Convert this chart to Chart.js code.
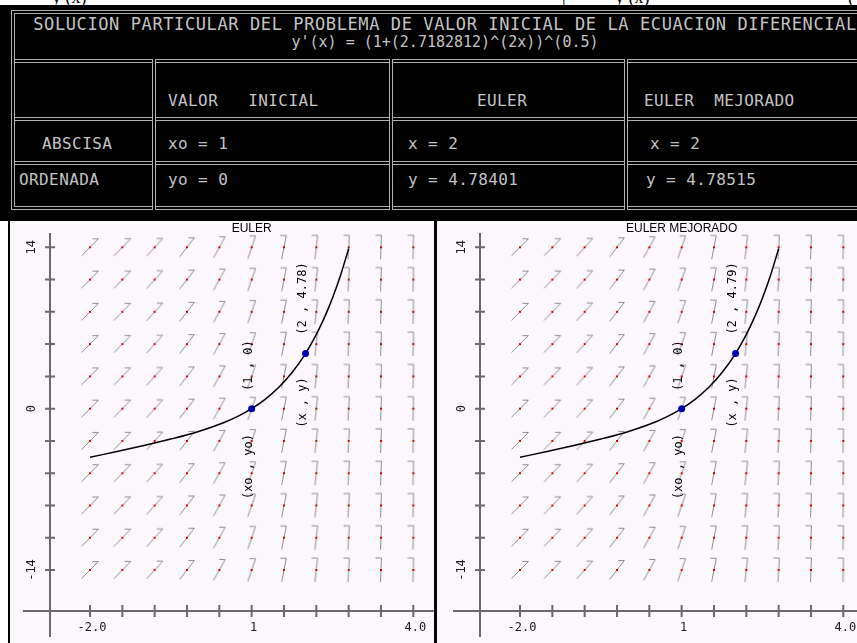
<!DOCTYPE html>
<html>
<head>
<meta charset="utf-8">
<script src="https://cdn.jsdelivr.net/npm/chart.js@4.4.1/dist/chart.umd.min.js"></script>
<style>
  html, body { margin: 0; padding: 0; background: #fff; width: 857px; height: 643px; overflow: hidden; }
  body { position: relative; }
  .frag { position: absolute; top: -13px; font-family: "Liberation Serif", serif; font-size: 18px; color: #000; }
  #header { position: absolute; left: 0; top: 5px; width: 857px; height: 216px; background: #000; }
  .frame { position: absolute; box-sizing: border-box; border: 4px double #b0b0b0; }
  .hl { position: absolute; box-sizing: border-box; height: 4px; border-top: 1px solid #b0b0b0; border-bottom: 1px solid #b0b0b0; background: #000; }
  .vl { position: absolute; box-sizing: border-box; width: 4px; border-left: 1px solid #b0b0b0; border-right: 1px solid #b0b0b0; background: #000; }
  .t { position: absolute; font-family: "DejaVu Sans Mono", monospace; font-size: 16px; letter-spacing: 0.4px; color: #c4c4c4; white-space: pre; line-height: 20px; }
  .t.big { font-size: 17px; letter-spacing: 0.6px; }
  .t.eq { font-size: 15px; letter-spacing: 0; }
  canvas { position: absolute; top: 221px; background: #fcf7fc; }
  .vbar { position: absolute; top: 221px; height: 422px; background: #000; }
</style>
</head>
<body>
<span class="frag" style="left:52px">y (x)</span>
<span class="frag" style="left:562px">|</span>
<span class="frag" style="left:615px">y (x)</span>
<span class="frag" style="left:848px">(</span>

<div id="header"></div>
<div class="frame" style="left:11px;top:10px;width:900px;height:200px;"></div>
<div class="hl" style="left:15px;top:59px;width:900px;"></div>
<div class="hl" style="left:15px;top:117px;width:900px;"></div>
<div class="hl" style="left:15px;top:161px;width:900px;"></div>
<div class="vl" style="left:152px;top:59px;height:151px;"></div>
<div class="vl" style="left:389px;top:59px;height:151px;"></div>
<div class="vl" style="left:624px;top:59px;height:151px;"></div>

<div class="t big" style="left:0;width:890px;text-align:center;top:14px;">SOLUCION PARTICULAR DEL PROBLEMA DE VALOR INICIAL DE LA ECUACION DIFERENCIAL</div>
<div class="t eq" style="left:0;width:890px;text-align:center;top:32px;">y'(x) = (1+(2.7182812)^(2x))^(0.5)</div>

<div class="t" style="left:168px;top:91px;">VALOR   INICIAL</div>
<div class="t" style="left:477px;top:91px;">EULER</div>
<div class="t" style="left:644px;top:91px;">EULER  MEJORADO</div>

<div class="t" style="left:42px;top:134px;">ABSCISA</div>
<div class="t" style="left:168px;top:134px;">xo = 1</div>
<div class="t" style="left:408px;top:134px;">x = 2</div>
<div class="t" style="left:650px;top:134px;">x = 2</div>

<div class="t" style="left:19px;top:170px;">ORDENADA</div>
<div class="t" style="left:168px;top:170px;">yo = 0</div>
<div class="t" style="left:408px;top:170px;">y = 4.78401</div>
<div class="t" style="left:646px;top:170px;">y = 4.78515</div>

<canvas id="euler" width="424" height="422" style="left:10px"></canvas>
<canvas id="mejorado" width="420" height="422" style="left:437px"></canvas>
<div class="vbar" style="left:8px;width:2px;"></div>
<div class="vbar" style="left:434px;width:3px;"></div>

<script>
// grid of the direction field (also the axis ticks)
const gridX = [-2.0, -1.4, -0.8, -0.2, 0.4, 1.0, 1.6, 2.2, 2.8, 3.4, 4.0];
const gridY = [14, 11.2, 8.4, 5.6, 2.8, 0, -2.8, -5.6, -8.4, -11.2, -14];
// slope of the little marks in each column
const fieldSlopes = [1.01, 1.03, 1.10, 1.29, 1.80, 2.90, 5.05, 9.1, 16.5, 30, 55];

const xLabelValues = [-2, 1, 4];
const xLabelTexts = ['-2.0', '1', '4.0'];
const yLabelValues = [14, 0, -14];
const yLabelTexts = ['14', '0', '-14'];

// solution curve
const curveX = [-2.0, -1.5, -1.0, -0.5, 0.0, 0.5, 0.75, 1.0, 1.25, 1.5, 1.75, 2.0, 2.1, 2.25, 2.4, 2.5, 2.65, 2.8];
const curveY = [-4.22, -3.72, -3.20, -2.64, -2.00, -1.18, -0.65, 0.00, 0.81, 1.83, 3.13, 4.78, 5.57, 6.90, 8.44, 9.60, 11.58, 13.88];

const x0 = 1, y0 = 0, xEnd = 2;
const yEuler = 4.78401;
const yMejorado = 4.78515;

function makeMark(slope) {
    const c = document.createElement('canvas');
    c.width = 34;
    c.height = 34;
    const g = c.getContext('2d');
    const a = Math.atan(slope);
    const dx = 12 * Math.cos(a), dy = 12 * Math.sin(a);
    g.strokeStyle = '#8e8e8e';
    g.lineWidth = 1;
    g.beginPath();
    g.moveTo(17 - dx, 17 + dy);
    g.lineTo(17 + dx, 17 - dy);
    g.lineTo(17 + dx - 6, 17 - dy);
    g.stroke();
    g.fillStyle = '#e00000';
    g.fillRect(16, 16, 2, 2);
    return c;
}
const markImgs = fieldSlopes.map(makeMark);

const fieldData = [];
gridY.forEach(yv => gridX.forEach(xv => fieldData.push({ x: xv, y: yv })));
const curveData = curveX.map((xv, i) => ({ x: xv, y: curveY[i] }));

const axesPlugin = {
    id: 'axesPlugin',
    beforeDatasetsDraw(chart) {
        const { ctx, scales: { x, y } } = chart;
        const ax = x.getPixelForValue(gridX[0]) - 40;
        const ay = y.getPixelForValue(gridY[gridY.length - 1]) + 41;
        ctx.save();
        ctx.strokeStyle = '#6a6a6a';
        ctx.lineWidth = 2;
        ctx.beginPath();
        ctx.moveTo(ax, 12);
        ctx.lineTo(ax, 416);
        ctx.moveTo(ax - 27, ay);
        ctx.lineTo(chart.width, ay);
        gridY.forEach(v => {
            const py = y.getPixelForValue(v);
            ctx.moveTo(ax - 5, py);
            ctx.lineTo(ax + 5, py);
        });
        gridX.forEach(v => {
            const px = x.getPixelForValue(v);
            ctx.moveTo(px, ay - 6);
            ctx.lineTo(px, ay + 6);
        });
        ctx.stroke();

        ctx.fillStyle = '#202020';
        ctx.font = '12px "DejaVu Sans Mono"';
        ctx.textAlign = 'center';
        ctx.textBaseline = 'middle';
        xLabelValues.forEach((v, i) => {
            ctx.fillText(xLabelTexts[i], x.getPixelForValue(v) + 2, ay + 17);
        });
        yLabelValues.forEach((v, i) => {
            ctx.save();
            ctx.translate(ax - 18, y.getPixelForValue(v));
            ctx.rotate(-Math.PI / 2);
            ctx.fillText(yLabelTexts[i], 0, 0);
            ctx.restore();
        });

        ctx.fillStyle = '#000';
        ctx.font = '12px "Liberation Sans"';
        ctx.fillText(chart.options.plugins.axesPlugin.title, (x.left + x.right) / 2, 8);
        ctx.restore();
    },
    afterDatasetsDraw(chart) {
        const { ctx, scales: { x, y } } = chart;
        const o = chart.options.plugins.axesPlugin;
        const labels = [
            ['(1 , 0)', x0, y0, -43],
            ['(xo , yo)', x0, y0, 58],
            [o.endLabel, xEnd, o.endY, -55],
            ['(x , y)', xEnd, o.endY, 49]
        ];
        ctx.save();
        ctx.fillStyle = '#000';
        ctx.font = '12px "DejaVu Sans Mono"';
        ctx.textAlign = 'center';
        ctx.textBaseline = 'middle';
        labels.forEach(([txt, xv, yv, off]) => {
            ctx.save();
            ctx.translate(x.getPixelForValue(xv) - 3, y.getPixelForValue(yv) + off);
            ctx.rotate(-Math.PI / 2);
            ctx.fillText(txt, 0, 0);
            ctx.restore();
        });
        ctx.restore();
    }
};

function makeChart(id, title, yFinal, endLabel, padLeft, padRight) {
    return new Chart(document.getElementById(id), {
        type: 'scatter',
        data: {
            datasets: [
                {
                    data: [{ x: x0, y: y0 }, { x: xEnd, y: yFinal }],
                    pointRadius: 3.5,
                    backgroundColor: '#0000b4',
                    borderWidth: 0,
                    clip: false
                },
                {
                    data: curveData,
                    showLine: true,
                    borderColor: '#000',
                    borderWidth: 1.5,
                    pointRadius: 0,
                    cubicInterpolationMode: 'monotone',
                    fill: false,
                    clip: false
                },
                {
                    data: fieldData,
                    pointStyle: c => markImgs[gridX.indexOf(c.raw.x)],
                    pointRadius: 3,
                    clip: false
                }
            ]
        },
        options: {
            responsive: false,
            animation: false,
            events: [],
            layout: { padding: { left: padLeft, right: padRight, top: 26.3, bottom: 73 } },
            scales: {
                x: { type: 'linear', min: -2, max: 4, display: false },
                y: { type: 'linear', min: -14, max: 14, display: false }
            },
            plugins: {
                legend: { display: false },
                tooltip: { enabled: false },
                axesPlugin: { title: title, endY: yFinal, endLabel: endLabel }
            }
        },
        plugins: [axesPlugin]
    });
}

makeChart('euler', 'EULER', yEuler, '(2 , 4.78)', 80, 20.7);
makeChart('mejorado', 'EULER MEJORADO', yMejorado, '(2 , 4.79)', 83, 13.7);
</script>
</body>
</html>
